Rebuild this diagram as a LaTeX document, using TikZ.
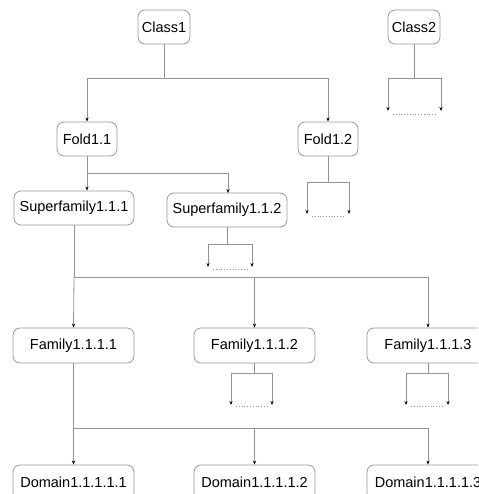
\documentclass[tikz,border=0pt]{standalone}
\usepackage{fontspec}
\setmainfont{Liberation Sans}
\usetikzlibrary{arrows.meta}
\begin{document}
\begin{tikzpicture}[x=1pt,y=-1pt,
  box/.style={draw=gray!80, line width=0.8pt, rounded corners=7pt, fill=white,
    font=\fontsize{14.5}{17}\selectfont, inner sep=0pt, minimum height=34pt},
  conn/.style={draw=gray!85, line width=0.8pt},
  arr/.style={conn, -{Stealth[length=4pt,width=3.2pt,color=black]}},
  dots/.style={draw=gray!85, line width=0.8pt, dotted}]
\useasboundingbox (0,0) rectangle (478,494);
\clip (0,0) rectangle (478,494);
\fill[white] (0,0) rectangle (478,494);

% nodes
\node[box, minimum width=52pt] (Class1) at (164,27) {Class1};
\node[box, minimum width=52pt] (Class2) at (414,27) {Class2};
\node[box, minimum width=60pt] (Fold11) at (87,139) {Fold1.1};
\node[box, minimum width=60pt] (Fold12) at (328,139) {Fold1.2};
\node[box, minimum width=120pt] (Sf111) at (74,208) {Superfamily1.1.1};
\node[box, minimum width=120pt] (Sf112) at (227,210) {Superfamily1.1.2};
\node[box, minimum width=121pt, minimum height=35pt] (Fa1) at (73.5,345.5) {Family1.1.1.1};
\node[box, minimum width=121pt, minimum height=35pt] (Fa2) at (254.5,345.5) {Family1.1.1.2};
\node[box, minimum width=122pt, minimum height=35pt] (Fa3) at (428,345.5) {Family1.1.1.3};
\node[box, minimum width=121pt, minimum height=35pt] (Do1) at (73.5,482.5) {Domain1.1.1.1.1};
\node[box, minimum width=121pt, minimum height=35pt] (Do2) at (254.5,482.5) {Domain1.1.1.1.2};
\node[box, minimum width=122pt, minimum height=35pt] (Do3) at (428,482.5) {Domain1.1.1.1.3};

% Class1 -> Folds
\draw[conn] (Class1.south) -- (Class1.south |- 0,78);
\draw[arr] (Class1.south |- 0,78) -| (Fold11.north);
\draw[arr] (Class1.south |- 0,78) -| (Fold12.north);

% Fold1.1 -> Superfamilies
\draw[arr] (Fold11.south) -- (Fold11.south |- Sf111.north);
\draw[arr] (Fold11.south |- 0,173) -| (228,193) coordinate (sf112in);

% Superfamily1.1.1 -> Families
\draw[conn] (Sf111.south) -- (Sf111.south |- 0,277);
\draw[arr] (Sf111.south |- 0,277) -- (Fa1.north);
\draw[arr] (Sf111.south |- 0,277) -| (Fa2.north);
\draw[arr] (Sf111.south |- 0,277) -| (Fa3.north);

% Family1.1.1.1 -> Domains
\draw[conn] (Fa1.south) -- (Fa1.south |- 0,428);
\draw[arr] (Fa1.south |- 0,428) -- (Do1.north);
\draw[arr] (Fa1.south |- 0,428) -| (Do2.north);
\draw[arr] (Fa1.south |- 0,428) -| (Do3.north);

% stubs
\coordinate (c2a) at (388,111); \coordinate (c2b) at (441,111);
\draw[conn] (Class2.south) -- (Class2.south |- 0,78);
\draw[arr] (Class2.south |- 0,78) -| (c2a);
\draw[arr] (Class2.south |- 0,78) -| (c2b);
\draw[dots] (393,114) -- (436,114);

\coordinate (f2a) at (307,214); \coordinate (f2b) at (349,214);
\draw[conn] (Fold12.south) -- (Fold12.south |- 0,182);
\draw[arr] (Fold12.south |- 0,182) -| (f2a);
\draw[arr] (Fold12.south |- 0,182) -| (f2b);
\draw[dots] (312,216) -- (344,216);

\coordinate (s2a) at (208,267); \coordinate (s2b) at (252,267);
\draw[conn] (Sf112.south) -- (Sf112.south |- 0,244);
\draw[arr] (Sf112.south |- 0,244) -| (s2a);
\draw[arr] (Sf112.south |- 0,244) -| (s2b);
\draw[dots] (213,269) -- (247,269);

\coordinate (fa2a) at (231,405); \coordinate (fa2b) at (272,405);
\draw[conn] (Fa2.south) -- (Fa2.south |- 0,373);
\draw[arr] (Fa2.south |- 0,373) -| (fa2a);
\draw[arr] (Fa2.south |- 0,373) -| (fa2b);
\draw[dots] (236,406) -- (267,406);

\coordinate (fa3a) at (406,405); \coordinate (fa3b) at (448,405);
\draw[conn] (Fa3.south) -- (Fa3.south |- 0,373);
\draw[arr] (Fa3.south |- 0,373) -| (fa3a);
\draw[arr] (Fa3.south |- 0,373) -| (fa3b);
\draw[dots] (411,406) -- (443,406);
\end{tikzpicture}
\end{document}
